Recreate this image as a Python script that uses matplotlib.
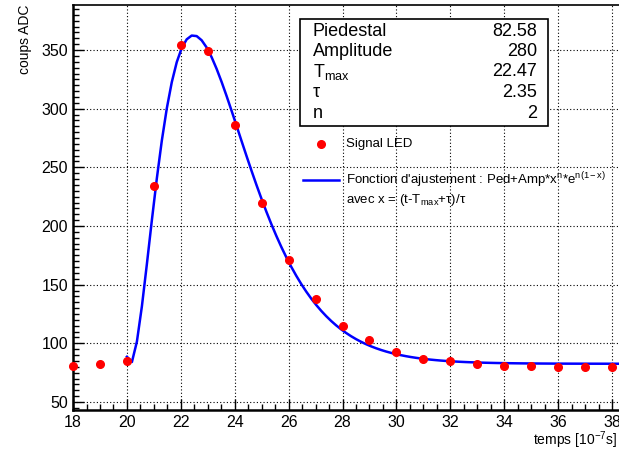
import numpy as np
import matplotlib
matplotlib.use("Agg")
import matplotlib.pyplot as plt
from matplotlib.ticker import MultipleLocator

plt.rcParams['font.family'] = ['Liberation Sans', 'DejaVu Sans']
plt.rcParams['mathtext.fontset'] = 'custom'
plt.rcParams['mathtext.rm'] = 'Liberation Sans'
plt.rcParams['mathtext.it'] = 'Liberation Sans'

# data
temps = [18, 19, 20, 21, 22, 23, 24, 25, 26, 27, 28, 29, 30, 31, 32, 33, 34, 35, 36, 37, 38]
coups = [81, 82, 85, 234, 354, 349, 286, 220, 171, 138, 115, 103, 93, 87, 85, 82, 81, 81, 80, 80, 80]

# fit parameters (stats box)
par_names = ["Piedestal", "Amplitude", "T$_{\\mathregular{max}}$", "τ", "n"]
par_values = ["82.58", "280", "22.47", "2.35", "2"]
ped, amp, tmax, tau, n = 82.58, 280, 22.47, 2.35, 2
fit_range = (20.0, 38.3)

def fit(t):
    x = (t - tmax + tau) / tau
    return ped + amp * x**n * np.exp(n * (1 - x))

fig = plt.figure(figsize=(6.19, 4.54), dpi=100)
ax = fig.add_axes([0.118, 0.097, 0.882, 0.892])

tt = np.linspace(fit_range[0], fit_range[1], 100)
ax.plot(tt, fit(tt), color='#0000ff', lw=1.8, zorder=3)
ax.plot(temps, coups, 'o', color='#ff0000', ms=5.5, zorder=4, clip_on=False)

ax.set_xlim(18, 38.26)
ax.set_ylim(43.2, 388.4)
ax.xaxis.set_major_locator(MultipleLocator(2))
ax.xaxis.set_minor_locator(MultipleLocator(0.5))
ax.yaxis.set_major_locator(MultipleLocator(50))
ax.yaxis.set_minor_locator(MultipleLocator(5))
ax.tick_params(which='both', direction='in', top=False, right=False, labelsize=11.5)
ax.tick_params(which='major', length=8, width=1)
ax.tick_params(which='minor', length=4, width=1)
ax.grid(True, which='major', color='black', ls=(0, (1, 2)), lw=0.8)
ax.spines['right'].set_visible(False)
ax.spines['left'].set_linewidth(1.8)
ax.spines['bottom'].set_linewidth(1.8)
ax.spines['top'].set_linewidth(1.2)

fig.text(0.04, 0.99, "coups ADC", rotation=90, ha='center', va='top', fontsize=10)
fig.text(0.997, 1 - 440 / 454, "temps [10$^{\\mathregular{-7}}$s]", ha='right', va='center', fontsize=10)

# stats box
box = plt.Rectangle((300 / 619, 1 - 126 / 454), 248 / 619, 107 / 454, transform=fig.transFigure,
                    facecolor='white', edgecolor='black', lw=1.2, zorder=5)
fig.add_artist(box)
for i, (nm, val) in enumerate(zip(par_names, par_values)):
    y = 1 - (31 + i * 20.5) / 454
    fig.text(313 / 619, y, nm, ha='left', va='center', fontsize=13, zorder=6)
    fig.text(537 / 619, y, val, ha='right', va='center', fontsize=13, zorder=6)

# legend
fig.add_artist(plt.Line2D([321 / 619], [1 - 144 / 454], marker='o', color='#ff0000', ms=5.5,
                          transform=fig.transFigure))
fig.text(346 / 619, 1 - 144 / 454, "Signal LED", ha='left', va='center', fontsize=9.5)
fig.add_artist(plt.Line2D([303 / 619, 339 / 619], [1 - 180 / 454] * 2, color='#0000ff', lw=1.8,
                          transform=fig.transFigure))
fig.text(346 / 619, 1 - 180 / 454,
         "Fonction d'ajustement : Ped+Amp*x$^{\\mathregular{n}}$*e$^{\\mathregular{n(1-x)}}$",
         ha='left', va='center', fontsize=9.5)
fig.text(346 / 619, 1 - 200 / 454,
         "avec x = (t-T$_{\\mathregular{max}}$+τ)/τ", ha='left', va='center', fontsize=9.5)

fig.savefig("out.png", dpi=100)
